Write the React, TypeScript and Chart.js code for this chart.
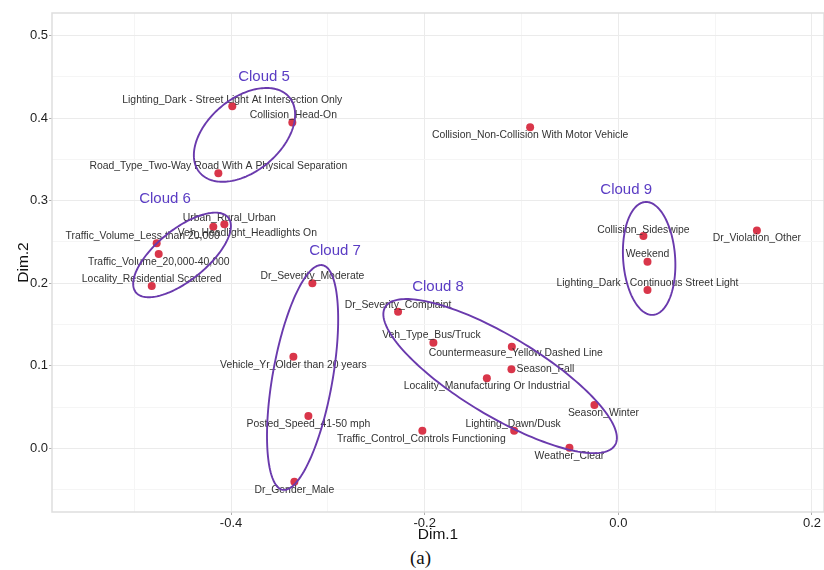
import React, { useEffect, useRef } from "react";
import { Chart, registerables } from "chart.js";

Chart.register(...registerables);

// ---------- data ----------
const categories = [
  "Lighting_Dark - Street Light At Intersection Only",
  "Collision_Head-On",
  "Road_Type_Two-Way Road With A Physical Separation",
  "Collision_Non-Collision With Motor Vehicle",
  "Urban_Rural_Urban",
  "Veh_Headlight_Headlights On",
  "Traffic_Volume_Less than 20,000",
  "Traffic_Volume_20,000-40,000",
  "Locality_Residential Scattered",
  "Dr_Severity_Moderate",
  "Vehicle_Yr_Older than 20 years",
  "Posted_Speed_41-50 mph",
  "Dr_Gender_Male",
  "Dr_Severity_Complaint",
  "Veh_Type_Bus/Truck",
  "Countermeasure_Yellow Dashed Line",
  "Season_Fall",
  "Locality_Manufacturing Or Industrial",
  "Season_Winter",
  "Lighting_Dawn/Dusk",
  "Weather_Clear",
  "Traffic_Control_Controls Functioning",
  "Collision_Sideswipe",
  "Weekend",
  "Lighting_Dark - Continuous Street Light",
  "Dr_Violation_Other",
];

const dim1 = [
  -0.3987, -0.3367, -0.4131, -0.0911, -0.4183, -0.4069, -0.4768, -0.4747,
  -0.4819, -0.316, -0.3356, -0.3201, -0.3346, -0.2275, -0.191, -0.11,
  -0.1104, -0.1358, -0.0247, -0.1076, -0.0505, -0.2024, 0.0259, 0.0301,
  0.0301, 0.1431,
];

const dim2 = [
  0.4145, 0.3947, 0.3333, 0.3891, 0.2686, 0.2715, 0.2485, 0.2355, 0.1967,
  0.2, 0.111, 0.0392, -0.0405, 0.1656, 0.128, 0.1232, 0.0958, 0.0848,
  0.0525, 0.0213, 0.0007, 0.0213, 0.2573, 0.2262, 0.1919, 0.2638,
];

// label nudges (pixels) for the repelled text labels
const labelDx = [0, 1, 0, 0, 16, 23, -14, 0, 0, 0, 0, 0, 0, 0, -2, 4, 34, 0, 9, -1, 0, -1, 0, 0, 0, 0];
const labelDy = [-6, -7, -7, 8, -9, 9, -7, 8, -7, -7, 8, 8, 8, -7, -8, 7, 0, 8, 8, -7, 8, 8, -6, -7, -7, 8];

// cloud ellipses (data units): centre + two conjugate semi-axis vectors
const cloudNames = ["Cloud 5", "Cloud 6", "Cloud 7", "Cloud 8", "Cloud 9"];
const cloudCenterX = [-0.3861, -0.4506, -0.3261, -0.1221, 0.0318];
const cloudCenterY = [0.3798, 0.2343, 0.0858, 0.0875, 0.2301];
const cloudUX = [0.0463, 0.0477, 0.0205, 0.1187, 0.004];
const cloudUY = [0.0456, 0.0453, 0.1361, -0.0836, -0.0684];
const cloudVX = [0.0243, 0.0165, 0.0305, -0.0213, -0.0268];
const cloudVY = [-0.0339, -0.024, -0.0063, -0.0416, -0.0022];
const cloudLabelX = [-0.3659, -0.4682, -0.2926, -0.1862, 0.0081];
const cloudLabelY = [0.4501, 0.3022, 0.2392, 0.1955, 0.3131];

// axes
const xMin = -0.5849;
const xMax = 0.2124;
const yMin = -0.0772;
const yMax = 0.5275;
const xMajorTicks = [-0.4, -0.2, 0, 0.2];
const xTickLabels = ["-0.4", "-0.2", "0.0", "0.2"];
const xMinorTicks = [-0.5, -0.3, -0.1, 0.1];
const yMajorTicks = [0, 0.1, 0.2, 0.3, 0.4, 0.5];
const yTickLabels = ["0.0", "0.1", "0.2", "0.3", "0.4", "0.5"];
const yMinorTicks = [-0.05, 0.05, 0.15, 0.25, 0.35, 0.45];

const FONT = '"Liberation Sans", Arial, Helvetica, sans-serif';

const near = (a: number, b: number) => Math.abs(a - b) < 1e-7;
const majorIndex = (list: number[], v: number) => list.findIndex((m) => near(m, v));

const overlayPlugin = {
  id: "overlay",
  beforeDatasetsDraw(chart: any) {
    const { ctx, chartArea: a } = chart;
    ctx.save();
    ctx.strokeStyle = "#dedede";
    ctx.lineWidth = 1.5;
    ctx.strokeRect(a.left, a.top, a.right - a.left, a.bottom - a.top);
    ctx.restore();
  },
  afterDatasetsDraw(chart: any) {
    const { ctx } = chart;
    const xs = chart.scales.x;
    const ys = chart.scales.y;
    ctx.save();
    // point labels
    ctx.font = `10.4px ${FONT}`;
    ctx.fillStyle = "#333333";
    ctx.textAlign = "center";
    ctx.textBaseline = "middle";
    categories.forEach((c, i) => {
      const px = xs.getPixelForValue(dim1[i]) + labelDx[i];
      const py = ys.getPixelForValue(dim2[i]) + labelDy[i];
      ctx.fillText(c, px, py);
    });
    // ellipses
    ctx.strokeStyle = "#6a3aad";
    ctx.lineWidth = 1.9;
    cloudNames.forEach((_, k) => {
      ctx.beginPath();
      for (let s = 0; s <= 180; s++) {
        const t = (s / 180) * Math.PI * 2;
        const dx = cloudCenterX[k] + cloudUX[k] * Math.cos(t) + cloudVX[k] * Math.sin(t);
        const dy = cloudCenterY[k] + cloudUY[k] * Math.cos(t) + cloudVY[k] * Math.sin(t);
        const px = xs.getPixelForValue(dx);
        const py = ys.getPixelForValue(dy);
        if (s === 0) ctx.moveTo(px, py);
        else ctx.lineTo(px, py);
      }
      ctx.closePath();
      ctx.stroke();
    });
    // cloud titles
    ctx.font = `15px ${FONT}`;
    ctx.fillStyle = "#5a3cc4";
    cloudNames.forEach((n, k) => {
      ctx.fillText(n, xs.getPixelForValue(cloudLabelX[k]), ys.getPixelForValue(cloudLabelY[k]));
    });
    ctx.restore();
  },
};

export default function App() {
  const canvasRef = useRef<HTMLCanvasElement | null>(null);

  useEffect(() => {
    const canvas = canvasRef.current;
    if (!canvas) return;
    const points = dim1.map((x, i) => ({ x, y: dim2[i] }));
    const xAll = [...xMajorTicks, ...xMinorTicks].sort((a, b) => a - b);
    const yAll = [...yMajorTicks, ...yMinorTicks].sort((a, b) => a - b);

    const chart = new Chart(canvas, {
      type: "scatter",
      data: {
        datasets: [
          {
            label: "categories",
            data: points,
            pointRadius: 4,
            pointHoverRadius: 4,
            pointBackgroundColor: "#d9364a",
            pointBorderWidth: 0,
            showLine: false,
            clip: false,
          },
        ],
      },
      options: {
        responsive: false,
        animation: false,
        events: [],
        layout: { autoPadding: false, padding: { top: 13, left: 0, right: 0, bottom: 0 } },
        plugins: {
          legend: { display: false },
          tooltip: { enabled: false },
        },
        scales: {
          x: {
            type: "linear",
            min: xMin,
            max: xMax,
            afterBuildTicks: (scale: any) => {
              scale.ticks = xAll.map((v) => ({ value: v }));
            },
            afterFit: (scale: any) => {
              scale.height = 33;
              scale.paddingLeft = 0;
              scale.paddingRight = 0;
            },
            border: { display: false },
            grid: {
              color: (c: any) => (majorIndex(xMajorTicks, c.tick?.value) >= 0 ? "#ebebeb" : "#f5f5f5"),
              tickColor: (c: any) => (majorIndex(xMajorTicks, c.tick?.value) >= 0 ? "#b0b0b0" : "rgba(0,0,0,0)"),
              tickLength: 3,
              lineWidth: 1,
            },
            ticks: {
              autoSkip: false,
              maxRotation: 0,
              padding: 1,
              color: "#1e1e1e",
              font: { family: FONT, size: 13 },
              callback: (v: any) => {
                const i = majorIndex(xMajorTicks, Number(v));
                return i >= 0 ? xTickLabels[i] : "";
              },
            },
            title: {
              display: true,
              text: "Dim.1",
              color: "#111111",
              font: { family: FONT, size: 15.5 },
              padding: { top: 0, bottom: 1 },
            },
          },
          y: {
            type: "linear",
            min: yMin,
            max: yMax,
            afterBuildTicks: (scale: any) => {
              scale.ticks = yAll.map((v) => ({ value: v }));
            },
            afterFit: (scale: any) => {
              scale.width = 52;
              scale.paddingTop = 0;
              scale.paddingBottom = 0;
            },
            border: { display: false },
            grid: {
              color: (c: any) => (majorIndex(yMajorTicks, c.tick?.value) >= 0 ? "#ebebeb" : "#f5f5f5"),
              tickColor: (c: any) => (majorIndex(yMajorTicks, c.tick?.value) >= 0 ? "#b0b0b0" : "rgba(0,0,0,0)"),
              tickLength: 3,
              lineWidth: 1,
            },
            ticks: {
              autoSkip: false,
              padding: 1,
              color: "#1e1e1e",
              font: { family: FONT, size: 13 },
              callback: (v: any) => {
                const i = majorIndex(yMajorTicks, Number(v));
                return i >= 0 ? yTickLabels[i] : "";
              },
            },
            title: {
              display: true,
              text: "Dim.2",
              color: "#111111",
              font: { family: FONT, size: 15.5 },
              padding: { top: 14, bottom: 0 },
            },
          },
        },
      },
      plugins: [overlayPlugin],
    } as any);

    return () => chart.destroy();
  }, []);

  return (
    <div
      style={{
        position: "absolute",
        left: 0,
        top: 0,
        width: 824,
        height: 570,
        background: "#ffffff",
        overflow: "hidden",
      }}
    >
      <canvas ref={canvasRef} width={824} height={545} style={{ display: "block", width: 824, height: 545 }} />
      <div
        style={{
          position: "absolute",
          left: 410,
          top: 547,
          fontFamily: '"Liberation Serif", "Times New Roman", serif',
          fontSize: 19,
          lineHeight: "22px",
          color: "#111",
        }}
      >
        (a)
      </div>
    </div>
  );
}
